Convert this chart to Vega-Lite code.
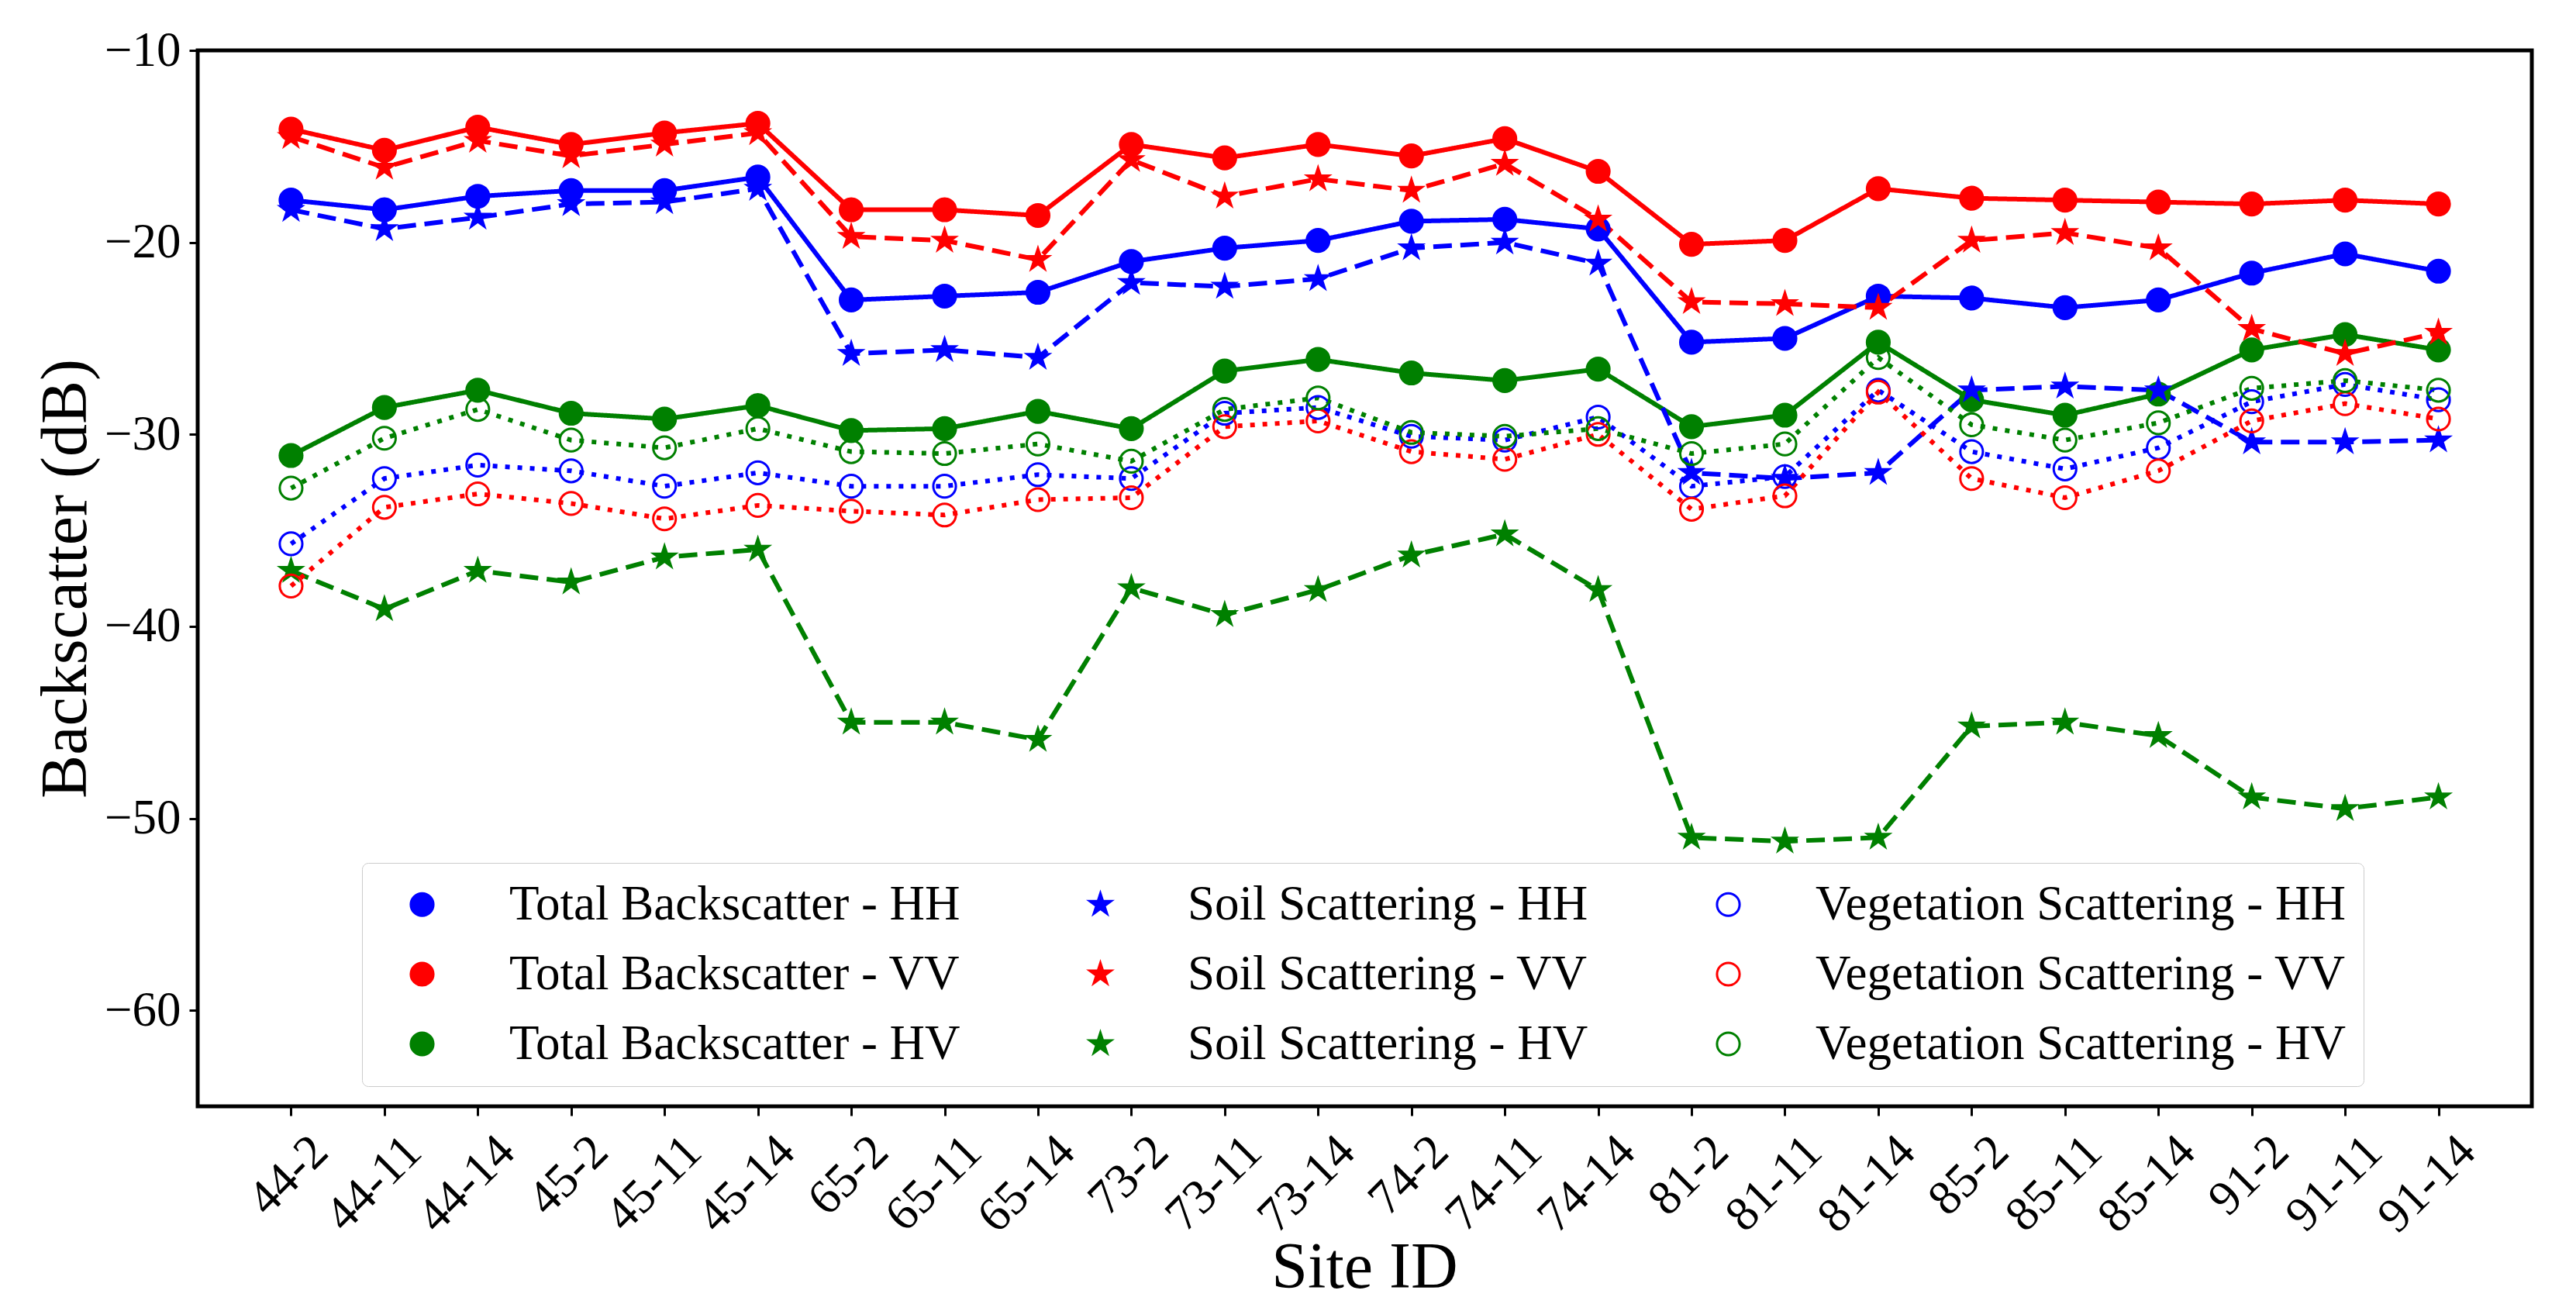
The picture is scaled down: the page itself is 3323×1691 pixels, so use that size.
{
  "$schema": "https://vega.github.io/schema/vega-lite/v6.json",
  "autosize": "none",
  "padding": {"left": 255, "top": 65, "right": 57, "bottom": 264},
  "width": 3011,
  "height": 1362,
  "background": "white",
  "config": {
    "view": {"stroke": "black", "strokeWidth": 5},
    "font": "Liberation Serif",
    "axis": {
      "labelFont": "Liberation Serif",
      "labelFontSize": 63,
      "labelColor": "black",
      "titleFont": "Liberation Serif",
      "titleFontSize": 84,
      "titleFontWeight": "normal",
      "titleColor": "black",
      "tickColor": "black",
      "tickWidth": 3,
      "domain": false,
      "grid": false
    },
    "legend": {
      "labelFont": "Liberation Serif",
      "labelFontSize": 63,
      "labelColor": "black",
      "labelLimit": 2000,
      "labelOffset": 81,
      "columnPadding": 125,
      "rowPadding": 26,
      "padding": 22,
      "symbolOffset": 24,
      "symbolSize": 850,
      "symbolStrokeWidth": 3,
      "strokeColor": "#cccccc",
      "fillColor": "white",
      "cornerRadius": 8
    }
  },
  "datasets": {
    "backscatter": [
      {"site": "44-2", "series": "Total Backscatter - HH", "value": -17.8},
      {"site": "44-11", "series": "Total Backscatter - HH", "value": -18.3},
      {"site": "44-14", "series": "Total Backscatter - HH", "value": -17.6},
      {"site": "45-2", "series": "Total Backscatter - HH", "value": -17.3},
      {"site": "45-11", "series": "Total Backscatter - HH", "value": -17.3},
      {"site": "45-14", "series": "Total Backscatter - HH", "value": -16.6},
      {"site": "65-2", "series": "Total Backscatter - HH", "value": -23.0},
      {"site": "65-11", "series": "Total Backscatter - HH", "value": -22.8},
      {"site": "65-14", "series": "Total Backscatter - HH", "value": -22.6},
      {"site": "73-2", "series": "Total Backscatter - HH", "value": -21.0},
      {"site": "73-11", "series": "Total Backscatter - HH", "value": -20.3},
      {"site": "73-14", "series": "Total Backscatter - HH", "value": -19.9},
      {"site": "74-2", "series": "Total Backscatter - HH", "value": -18.9},
      {"site": "74-11", "series": "Total Backscatter - HH", "value": -18.8},
      {"site": "74-14", "series": "Total Backscatter - HH", "value": -19.3},
      {"site": "81-2", "series": "Total Backscatter - HH", "value": -25.2},
      {"site": "81-11", "series": "Total Backscatter - HH", "value": -25.0},
      {"site": "81-14", "series": "Total Backscatter - HH", "value": -22.8},
      {"site": "85-2", "series": "Total Backscatter - HH", "value": -22.9},
      {"site": "85-11", "series": "Total Backscatter - HH", "value": -23.4},
      {"site": "85-14", "series": "Total Backscatter - HH", "value": -23.0},
      {"site": "91-2", "series": "Total Backscatter - HH", "value": -21.6},
      {"site": "91-11", "series": "Total Backscatter - HH", "value": -20.6},
      {"site": "91-14", "series": "Total Backscatter - HH", "value": -21.5},

      {"site": "44-2", "series": "Total Backscatter - VV", "value": -14.1},
      {"site": "44-11", "series": "Total Backscatter - VV", "value": -15.2},
      {"site": "44-14", "series": "Total Backscatter - VV", "value": -14.0},
      {"site": "45-2", "series": "Total Backscatter - VV", "value": -14.9},
      {"site": "45-11", "series": "Total Backscatter - VV", "value": -14.3},
      {"site": "45-14", "series": "Total Backscatter - VV", "value": -13.8},
      {"site": "65-2", "series": "Total Backscatter - VV", "value": -18.3},
      {"site": "65-11", "series": "Total Backscatter - VV", "value": -18.3},
      {"site": "65-14", "series": "Total Backscatter - VV", "value": -18.6},
      {"site": "73-2", "series": "Total Backscatter - VV", "value": -14.9},
      {"site": "73-11", "series": "Total Backscatter - VV", "value": -15.6},
      {"site": "73-14", "series": "Total Backscatter - VV", "value": -14.9},
      {"site": "74-2", "series": "Total Backscatter - VV", "value": -15.5},
      {"site": "74-11", "series": "Total Backscatter - VV", "value": -14.6},
      {"site": "74-14", "series": "Total Backscatter - VV", "value": -16.3},
      {"site": "81-2", "series": "Total Backscatter - VV", "value": -20.1},
      {"site": "81-11", "series": "Total Backscatter - VV", "value": -19.9},
      {"site": "81-14", "series": "Total Backscatter - VV", "value": -17.2},
      {"site": "85-2", "series": "Total Backscatter - VV", "value": -17.7},
      {"site": "85-11", "series": "Total Backscatter - VV", "value": -17.8},
      {"site": "85-14", "series": "Total Backscatter - VV", "value": -17.9},
      {"site": "91-2", "series": "Total Backscatter - VV", "value": -18.0},
      {"site": "91-11", "series": "Total Backscatter - VV", "value": -17.8},
      {"site": "91-14", "series": "Total Backscatter - VV", "value": -18.0},

      {"site": "44-2", "series": "Total Backscatter - HV", "value": -31.1},
      {"site": "44-11", "series": "Total Backscatter - HV", "value": -28.6},
      {"site": "44-14", "series": "Total Backscatter - HV", "value": -27.7},
      {"site": "45-2", "series": "Total Backscatter - HV", "value": -28.9},
      {"site": "45-11", "series": "Total Backscatter - HV", "value": -29.2},
      {"site": "45-14", "series": "Total Backscatter - HV", "value": -28.5},
      {"site": "65-2", "series": "Total Backscatter - HV", "value": -29.8},
      {"site": "65-11", "series": "Total Backscatter - HV", "value": -29.7},
      {"site": "65-14", "series": "Total Backscatter - HV", "value": -28.8},
      {"site": "73-2", "series": "Total Backscatter - HV", "value": -29.7},
      {"site": "73-11", "series": "Total Backscatter - HV", "value": -26.7},
      {"site": "73-14", "series": "Total Backscatter - HV", "value": -26.1},
      {"site": "74-2", "series": "Total Backscatter - HV", "value": -26.8},
      {"site": "74-11", "series": "Total Backscatter - HV", "value": -27.2},
      {"site": "74-14", "series": "Total Backscatter - HV", "value": -26.6},
      {"site": "81-2", "series": "Total Backscatter - HV", "value": -29.6},
      {"site": "81-11", "series": "Total Backscatter - HV", "value": -29.0},
      {"site": "81-14", "series": "Total Backscatter - HV", "value": -25.2},
      {"site": "85-2", "series": "Total Backscatter - HV", "value": -28.2},
      {"site": "85-11", "series": "Total Backscatter - HV", "value": -29.0},
      {"site": "85-14", "series": "Total Backscatter - HV", "value": -27.9},
      {"site": "91-2", "series": "Total Backscatter - HV", "value": -25.6},
      {"site": "91-11", "series": "Total Backscatter - HV", "value": -24.8},
      {"site": "91-14", "series": "Total Backscatter - HV", "value": -25.6},

      {"site": "44-2", "series": "Soil Scattering - HH", "value": -18.3},
      {"site": "44-11", "series": "Soil Scattering - HH", "value": -19.3},
      {"site": "44-14", "series": "Soil Scattering - HH", "value": -18.7},
      {"site": "45-2", "series": "Soil Scattering - HH", "value": -18.0},
      {"site": "45-11", "series": "Soil Scattering - HH", "value": -17.9},
      {"site": "45-14", "series": "Soil Scattering - HH", "value": -17.2},
      {"site": "65-2", "series": "Soil Scattering - HH", "value": -25.8},
      {"site": "65-11", "series": "Soil Scattering - HH", "value": -25.6},
      {"site": "65-14", "series": "Soil Scattering - HH", "value": -26.0},
      {"site": "73-2", "series": "Soil Scattering - HH", "value": -22.1},
      {"site": "73-11", "series": "Soil Scattering - HH", "value": -22.3},
      {"site": "73-14", "series": "Soil Scattering - HH", "value": -21.9},
      {"site": "74-2", "series": "Soil Scattering - HH", "value": -20.3},
      {"site": "74-11", "series": "Soil Scattering - HH", "value": -20.0},
      {"site": "74-14", "series": "Soil Scattering - HH", "value": -21.1},
      {"site": "81-2", "series": "Soil Scattering - HH", "value": -32.0},
      {"site": "81-11", "series": "Soil Scattering - HH", "value": -32.3},
      {"site": "81-14", "series": "Soil Scattering - HH", "value": -32.0},
      {"site": "85-2", "series": "Soil Scattering - HH", "value": -27.7},
      {"site": "85-11", "series": "Soil Scattering - HH", "value": -27.5},
      {"site": "85-14", "series": "Soil Scattering - HH", "value": -27.7},
      {"site": "91-2", "series": "Soil Scattering - HH", "value": -30.4},
      {"site": "91-11", "series": "Soil Scattering - HH", "value": -30.4},
      {"site": "91-14", "series": "Soil Scattering - HH", "value": -30.3},

      {"site": "44-2", "series": "Soil Scattering - VV", "value": -14.5},
      {"site": "44-11", "series": "Soil Scattering - VV", "value": -16.1},
      {"site": "44-14", "series": "Soil Scattering - VV", "value": -14.7},
      {"site": "45-2", "series": "Soil Scattering - VV", "value": -15.5},
      {"site": "45-11", "series": "Soil Scattering - VV", "value": -14.9},
      {"site": "45-14", "series": "Soil Scattering - VV", "value": -14.3},
      {"site": "65-2", "series": "Soil Scattering - VV", "value": -19.7},
      {"site": "65-11", "series": "Soil Scattering - VV", "value": -19.9},
      {"site": "65-14", "series": "Soil Scattering - VV", "value": -20.9},
      {"site": "73-2", "series": "Soil Scattering - VV", "value": -15.7},
      {"site": "73-11", "series": "Soil Scattering - VV", "value": -17.6},
      {"site": "73-14", "series": "Soil Scattering - VV", "value": -16.7},
      {"site": "74-2", "series": "Soil Scattering - VV", "value": -17.3},
      {"site": "74-11", "series": "Soil Scattering - VV", "value": -15.9},
      {"site": "74-14", "series": "Soil Scattering - VV", "value": -18.8},
      {"site": "81-2", "series": "Soil Scattering - VV", "value": -23.1},
      {"site": "81-11", "series": "Soil Scattering - VV", "value": -23.2},
      {"site": "81-14", "series": "Soil Scattering - VV", "value": -23.4},
      {"site": "85-2", "series": "Soil Scattering - VV", "value": -19.9},
      {"site": "85-11", "series": "Soil Scattering - VV", "value": -19.5},
      {"site": "85-14", "series": "Soil Scattering - VV", "value": -20.3},
      {"site": "91-2", "series": "Soil Scattering - VV", "value": -24.5},
      {"site": "91-11", "series": "Soil Scattering - VV", "value": -25.8},
      {"site": "91-14", "series": "Soil Scattering - VV", "value": -24.7},

      {"site": "44-2", "series": "Soil Scattering - HV", "value": -37.1},
      {"site": "44-11", "series": "Soil Scattering - HV", "value": -39.1},
      {"site": "44-14", "series": "Soil Scattering - HV", "value": -37.1},
      {"site": "45-2", "series": "Soil Scattering - HV", "value": -37.7},
      {"site": "45-11", "series": "Soil Scattering - HV", "value": -36.4},
      {"site": "45-14", "series": "Soil Scattering - HV", "value": -36.0},
      {"site": "65-2", "series": "Soil Scattering - HV", "value": -45.0},
      {"site": "65-11", "series": "Soil Scattering - HV", "value": -45.0},
      {"site": "65-14", "series": "Soil Scattering - HV", "value": -45.9},
      {"site": "73-2", "series": "Soil Scattering - HV", "value": -38.0},
      {"site": "73-11", "series": "Soil Scattering - HV", "value": -39.4},
      {"site": "73-14", "series": "Soil Scattering - HV", "value": -38.1},
      {"site": "74-2", "series": "Soil Scattering - HV", "value": -36.3},
      {"site": "74-11", "series": "Soil Scattering - HV", "value": -35.2},
      {"site": "74-14", "series": "Soil Scattering - HV", "value": -38.1},
      {"site": "81-2", "series": "Soil Scattering - HV", "value": -51.0},
      {"site": "81-11", "series": "Soil Scattering - HV", "value": -51.2},
      {"site": "81-14", "series": "Soil Scattering - HV", "value": -51.0},
      {"site": "85-2", "series": "Soil Scattering - HV", "value": -45.2},
      {"site": "85-11", "series": "Soil Scattering - HV", "value": -45.0},
      {"site": "85-14", "series": "Soil Scattering - HV", "value": -45.7},
      {"site": "91-2", "series": "Soil Scattering - HV", "value": -48.9},
      {"site": "91-11", "series": "Soil Scattering - HV", "value": -49.5},
      {"site": "91-14", "series": "Soil Scattering - HV", "value": -48.9},

      {"site": "44-2", "series": "Vegetation Scattering - HH", "value": -35.7},
      {"site": "44-11", "series": "Vegetation Scattering - HH", "value": -32.3},
      {"site": "44-14", "series": "Vegetation Scattering - HH", "value": -31.6},
      {"site": "45-2", "series": "Vegetation Scattering - HH", "value": -31.9},
      {"site": "45-11", "series": "Vegetation Scattering - HH", "value": -32.7},
      {"site": "45-14", "series": "Vegetation Scattering - HH", "value": -32.0},
      {"site": "65-2", "series": "Vegetation Scattering - HH", "value": -32.7},
      {"site": "65-11", "series": "Vegetation Scattering - HH", "value": -32.7},
      {"site": "65-14", "series": "Vegetation Scattering - HH", "value": -32.1},
      {"site": "73-2", "series": "Vegetation Scattering - HH", "value": -32.3},
      {"site": "73-11", "series": "Vegetation Scattering - HH", "value": -28.9},
      {"site": "73-14", "series": "Vegetation Scattering - HH", "value": -28.6},
      {"site": "74-2", "series": "Vegetation Scattering - HH", "value": -30.1},
      {"site": "74-11", "series": "Vegetation Scattering - HH", "value": -30.3},
      {"site": "74-14", "series": "Vegetation Scattering - HH", "value": -29.1},
      {"site": "81-2", "series": "Vegetation Scattering - HH", "value": -32.7},
      {"site": "81-11", "series": "Vegetation Scattering - HH", "value": -32.2},
      {"site": "81-14", "series": "Vegetation Scattering - HH", "value": -27.7},
      {"site": "85-2", "series": "Vegetation Scattering - HH", "value": -30.9},
      {"site": "85-11", "series": "Vegetation Scattering - HH", "value": -31.8},
      {"site": "85-14", "series": "Vegetation Scattering - HH", "value": -30.7},
      {"site": "91-2", "series": "Vegetation Scattering - HH", "value": -28.3},
      {"site": "91-11", "series": "Vegetation Scattering - HH", "value": -27.4},
      {"site": "91-14", "series": "Vegetation Scattering - HH", "value": -28.2},

      {"site": "44-2", "series": "Vegetation Scattering - VV", "value": -37.9},
      {"site": "44-11", "series": "Vegetation Scattering - VV", "value": -33.8},
      {"site": "44-14", "series": "Vegetation Scattering - VV", "value": -33.1},
      {"site": "45-2", "series": "Vegetation Scattering - VV", "value": -33.6},
      {"site": "45-11", "series": "Vegetation Scattering - VV", "value": -34.4},
      {"site": "45-14", "series": "Vegetation Scattering - VV", "value": -33.7},
      {"site": "65-2", "series": "Vegetation Scattering - VV", "value": -34.0},
      {"site": "65-11", "series": "Vegetation Scattering - VV", "value": -34.2},
      {"site": "65-14", "series": "Vegetation Scattering - VV", "value": -33.4},
      {"site": "73-2", "series": "Vegetation Scattering - VV", "value": -33.3},
      {"site": "73-11", "series": "Vegetation Scattering - VV", "value": -29.6},
      {"site": "73-14", "series": "Vegetation Scattering - VV", "value": -29.3},
      {"site": "74-2", "series": "Vegetation Scattering - VV", "value": -30.9},
      {"site": "74-11", "series": "Vegetation Scattering - VV", "value": -31.3},
      {"site": "74-14", "series": "Vegetation Scattering - VV", "value": -30.0},
      {"site": "81-2", "series": "Vegetation Scattering - VV", "value": -33.9},
      {"site": "81-11", "series": "Vegetation Scattering - VV", "value": -33.2},
      {"site": "81-14", "series": "Vegetation Scattering - VV", "value": -27.8},
      {"site": "85-2", "series": "Vegetation Scattering - VV", "value": -32.3},
      {"site": "85-11", "series": "Vegetation Scattering - VV", "value": -33.3},
      {"site": "85-14", "series": "Vegetation Scattering - VV", "value": -31.9},
      {"site": "91-2", "series": "Vegetation Scattering - VV", "value": -29.3},
      {"site": "91-11", "series": "Vegetation Scattering - VV", "value": -28.4},
      {"site": "91-14", "series": "Vegetation Scattering - VV", "value": -29.2},

      {"site": "44-2", "series": "Vegetation Scattering - HV", "value": -32.8},
      {"site": "44-11", "series": "Vegetation Scattering - HV", "value": -30.2},
      {"site": "44-14", "series": "Vegetation Scattering - HV", "value": -28.7},
      {"site": "45-2", "series": "Vegetation Scattering - HV", "value": -30.3},
      {"site": "45-11", "series": "Vegetation Scattering - HV", "value": -30.7},
      {"site": "45-14", "series": "Vegetation Scattering - HV", "value": -29.7},
      {"site": "65-2", "series": "Vegetation Scattering - HV", "value": -30.9},
      {"site": "65-11", "series": "Vegetation Scattering - HV", "value": -31.0},
      {"site": "65-14", "series": "Vegetation Scattering - HV", "value": -30.5},
      {"site": "73-2", "series": "Vegetation Scattering - HV", "value": -31.4},
      {"site": "73-11", "series": "Vegetation Scattering - HV", "value": -28.7},
      {"site": "73-14", "series": "Vegetation Scattering - HV", "value": -28.1},
      {"site": "74-2", "series": "Vegetation Scattering - HV", "value": -29.9},
      {"site": "74-11", "series": "Vegetation Scattering - HV", "value": -30.1},
      {"site": "74-14", "series": "Vegetation Scattering - HV", "value": -29.7},
      {"site": "81-2", "series": "Vegetation Scattering - HV", "value": -31.0},
      {"site": "81-11", "series": "Vegetation Scattering - HV", "value": -30.5},
      {"site": "81-14", "series": "Vegetation Scattering - HV", "value": -26.0},
      {"site": "85-2", "series": "Vegetation Scattering - HV", "value": -29.5},
      {"site": "85-11", "series": "Vegetation Scattering - HV", "value": -30.3},
      {"site": "85-14", "series": "Vegetation Scattering - HV", "value": -29.4},
      {"site": "91-2", "series": "Vegetation Scattering - HV", "value": -27.6},
      {"site": "91-11", "series": "Vegetation Scattering - HV", "value": -27.2},
      {"site": "91-14", "series": "Vegetation Scattering - HV", "value": -27.7}
    ]
  },
  "data": {"name": "backscatter"},
  "encoding": {
    "x": {
      "field": "site",
      "type": "ordinal",
      "sort": null,
      "scale": {"type": "point", "padding": 1.15},
      "axis": {
        "title": "Site ID",
        "orient": "bottom",
        "labelAngle": -45,
        "labelAlign": "right",
        "labelBaseline": "top",
        "labelOffset": 15,
        "labelPadding": 14,
        "tickSize": 12,
        "titleX": 1505,
        "titleY": 233,
        "titleBaseline": "alphabetic",
        "titleAlign": "center"
      }
    },
    "y": {
      "field": "value",
      "type": "quantitative",
      "scale": {"domain": [-65, -10], "nice": false, "zero": false},
      "axis": {
        "title": "Backscatter (dB)",
        "values": [-60, -50, -40, -30, -20, -10],
        "format": "d",
        "tickSize": 11,
        "labelPadding": 11,
        "titleAngle": -90,
        "titleX": -127,
        "titleY": 681,
        "titleAlign": "center",
        "titleBaseline": "bottom"
      }
    }
  },
  "layer": [
    {
      "mark": {"type": "line", "strokeWidth": 6, "strokeCap": "butt"},
      "encoding": {
        "color": {
          "field": "series",
          "type": "nominal",
          "legend": null,
          "scale": {
            "domain": ["Soil Scattering - HH", "Soil Scattering - HV", "Soil Scattering - VV", "Total Backscatter - HH", "Total Backscatter - HV", "Total Backscatter - VV", "Vegetation Scattering - HH", "Vegetation Scattering - HV", "Vegetation Scattering - VV"],
            "range": ["#0000ff", "#008000", "#ff0000", "#0000ff", "#008000", "#ff0000", "#0000ff", "#008000", "#ff0000"]
          }
        },
        "strokeDash": {
          "field": "series",
          "type": "nominal",
          "legend": null,
          "scale": {
            "domain": ["Soil Scattering - HH", "Soil Scattering - HV", "Soil Scattering - VV", "Total Backscatter - HH", "Total Backscatter - HV", "Total Backscatter - VV", "Vegetation Scattering - HH", "Vegetation Scattering - HV", "Vegetation Scattering - VV"],
            "range": [[24, 11], [24, 11], [24, 11], [1, 0], [1, 0], [1, 0], [6, 10], [6, 10], [6, 10]]
          }
        }
      }
    },
    {
      "mark": {"type": "point", "strokeWidth": 3, "size": 850, "opacity": 1},
      "encoding": {
        "shape": {
          "field": "series",
          "type": "nominal",
          "title": null,
          "scale": {
            "domain": ["Total Backscatter - HH", "Total Backscatter - VV", "Total Backscatter - HV", "Soil Scattering - HH", "Soil Scattering - VV", "Soil Scattering - HV", "Vegetation Scattering - HH", "Vegetation Scattering - VV", "Vegetation Scattering - HV"],
            "range": ["circle", "circle", "circle", "M0,-1L0.2245,-0.309L0.951,-0.309L0.363,0.118L0.588,0.809L0,0.382L-0.588,0.809L-0.363,0.118L-0.951,-0.309L-0.2245,-0.309Z", "M0,-1L0.2245,-0.309L0.951,-0.309L0.363,0.118L0.588,0.809L0,0.382L-0.588,0.809L-0.363,0.118L-0.951,-0.309L-0.2245,-0.309Z", "M0,-1L0.2245,-0.309L0.951,-0.309L0.363,0.118L0.588,0.809L0,0.382L-0.588,0.809L-0.363,0.118L-0.951,-0.309L-0.2245,-0.309Z", "circle", "circle", "circle"]
          },
          "legend": {"orient": "none", "legendX": 212, "legendY": 1048, "columns": 3}
        },
        "fill": {
          "field": "series",
          "type": "nominal",
          "title": null,
          "scale": {
            "domain": ["Total Backscatter - HH", "Total Backscatter - VV", "Total Backscatter - HV", "Soil Scattering - HH", "Soil Scattering - VV", "Soil Scattering - HV", "Vegetation Scattering - HH", "Vegetation Scattering - VV", "Vegetation Scattering - HV"],
            "range": ["#0000ff", "#ff0000", "#008000", "#0000ff", "#ff0000", "#008000", "#ffffff00", "#ffffff00", "#ffffff00"]
          },
          "legend": {"orient": "none", "legendX": 212, "legendY": 1048, "columns": 3}
        },
        "stroke": {
          "field": "series",
          "type": "nominal",
          "title": null,
          "scale": {
            "domain": ["Total Backscatter - HH", "Total Backscatter - VV", "Total Backscatter - HV", "Soil Scattering - HH", "Soil Scattering - VV", "Soil Scattering - HV", "Vegetation Scattering - HH", "Vegetation Scattering - VV", "Vegetation Scattering - HV"],
            "range": ["#0000ff", "#ff0000", "#008000", "#0000ff", "#ff0000", "#008000", "#0000ff", "#ff0000", "#008000"]
          },
          "legend": {"orient": "none", "legendX": 212, "legendY": 1048, "columns": 3}
        }
      }
    }
  ]
}
